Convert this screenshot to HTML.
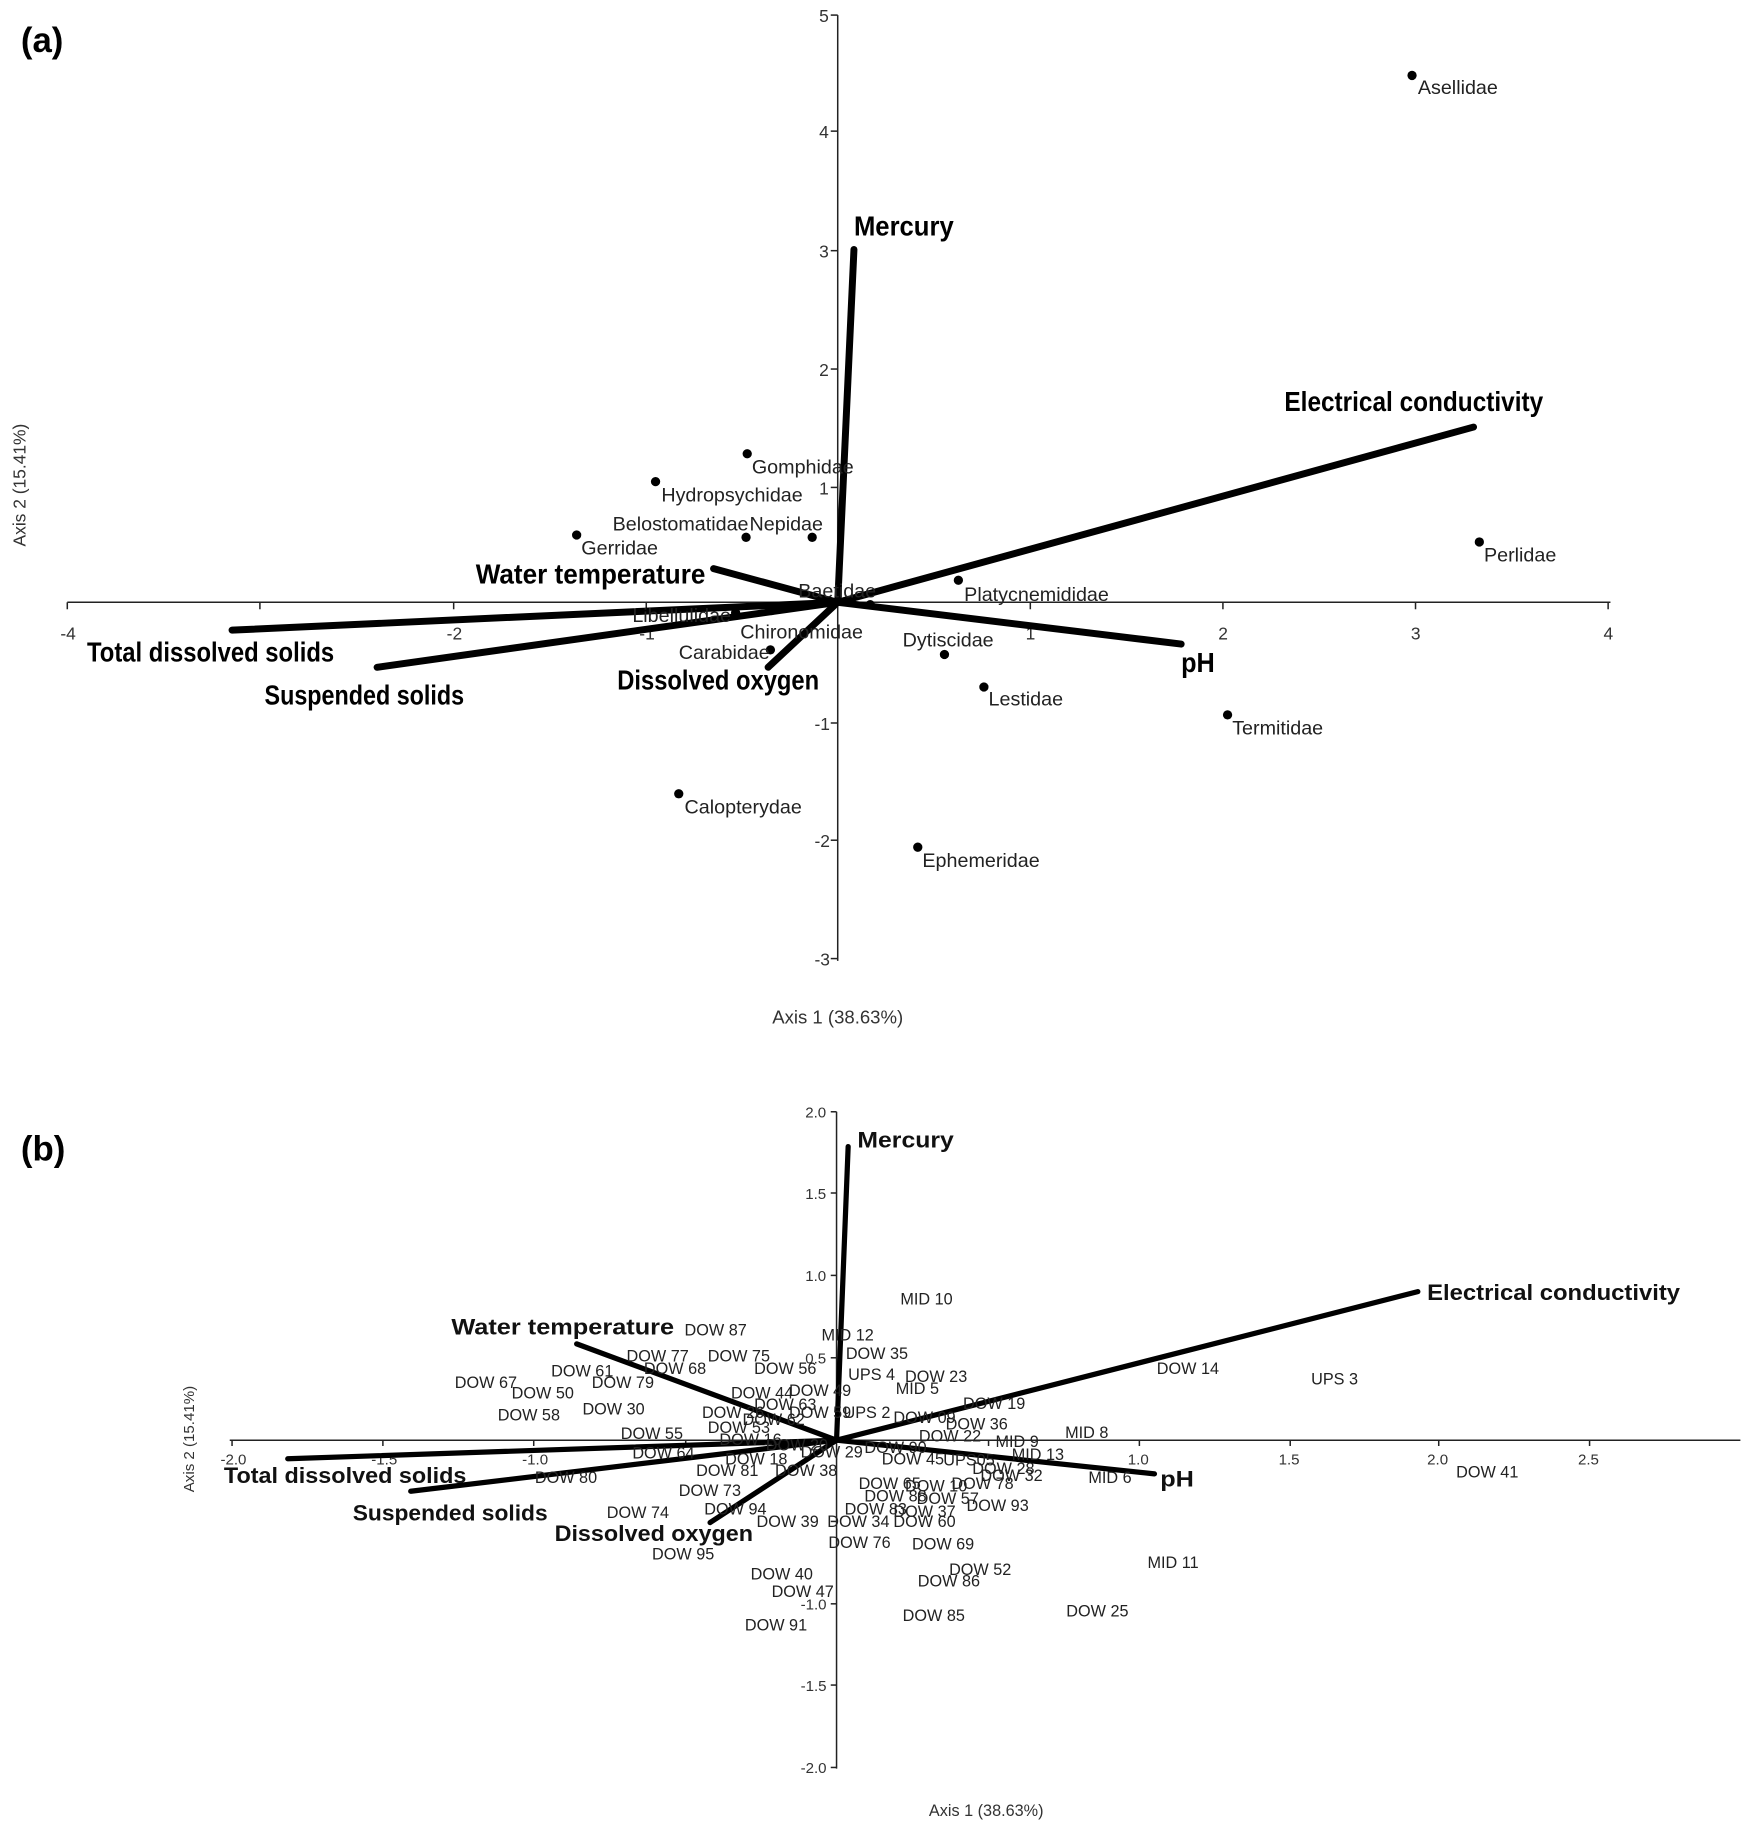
<!DOCTYPE html>
<html><head><meta charset="utf-8"><style>html,body{margin:0;padding:0;background:#fff}svg{display:block}</style></head>
<body>
<svg width="1752" height="1822" viewBox="0 0 1510 1570" preserveAspectRatio="none" xmlns="http://www.w3.org/2000/svg" font-family="Liberation Sans, sans-serif">
<rect width="1510" height="1570" fill="#fff"/>
<!-- Panel a -->
<text x="18" y="45" font-size="30" font-weight="bold">(a)</text>
<g stroke="#222" stroke-width="1.3" fill="none">
<line x1="58" y1="519" x2="1388" y2="519"/>
<line x1="722" y1="13" x2="722" y2="828"/>
<line x1="58" y1="519" x2="58" y2="525"/><line x1="224" y1="519" x2="224" y2="525"/><line x1="391" y1="519" x2="391" y2="525"/><line x1="557" y1="519" x2="557" y2="525"/><line x1="888" y1="519" x2="888" y2="525"/><line x1="1054" y1="519" x2="1054" y2="525"/><line x1="1220" y1="519" x2="1220" y2="525"/><line x1="1386" y1="519" x2="1386" y2="525"/>
<line x1="716" y1="13" x2="722" y2="13"/><line x1="716" y1="113" x2="722" y2="113"/><line x1="716" y1="216" x2="722" y2="216"/><line x1="716" y1="318" x2="722" y2="318"/><line x1="716" y1="420" x2="722" y2="420"/><line x1="716" y1="623" x2="722" y2="623"/><line x1="716" y1="724" x2="722" y2="724"/><line x1="716" y1="826" x2="722" y2="826"/>
</g>
<g font-size="15" fill="#333">
<text x="52" y="551">-4</text><text x="385" y="551">-2</text><text x="551" y="551">-1</text><text x="884" y="551">1</text><text x="1050" y="551">2</text><text x="1216" y="551">3</text><text x="1382" y="551">4</text>
<text x="706" y="19">5</text><text x="706" y="119">4</text><text x="706" y="222">3</text><text x="706" y="324">2</text><text x="706" y="426">1</text><text x="702" y="629">-1</text><text x="702" y="730">-2</text><text x="702" y="832">-3</text>
</g>
<g stroke="#000" stroke-width="6" stroke-linecap="round">
<line x1="722" y1="519" x2="736" y2="215"/>
<line x1="722" y1="519" x2="1270" y2="368"/>
<line x1="722" y1="519" x2="1018" y2="555"/>
<line x1="722" y1="519" x2="615" y2="490"/>
<line x1="722" y1="519" x2="200" y2="543"/>
<line x1="722" y1="519" x2="325" y2="575"/>
<line x1="722" y1="519" x2="662" y2="575"/>
</g>
<g font-size="24" font-weight="bold" fill="#000" lengthAdjust="spacingAndGlyphs">
<text x="736" y="203" textLength="86" lengthAdjust="spacingAndGlyphs">Mercury</text>
<text x="1107" y="354" textLength="223" lengthAdjust="spacingAndGlyphs">Electrical conductivity</text>
<text x="1018" y="579" textLength="29" lengthAdjust="spacingAndGlyphs">pH</text>
<text x="410" y="503" textLength="198" lengthAdjust="spacingAndGlyphs">Water temperature</text>
<text x="75" y="570" textLength="213" lengthAdjust="spacingAndGlyphs">Total dissolved solids</text>
<text x="228" y="607" textLength="172" lengthAdjust="spacingAndGlyphs">Suspended solids</text>
<text x="532" y="594" textLength="174" lengthAdjust="spacingAndGlyphs">Dissolved oxygen</text>
</g>
<g fill="#000">
<circle cx="1217" cy="65" r="4"/><circle cx="644" cy="391" r="4"/><circle cx="565" cy="415" r="4"/><circle cx="643" cy="463" r="4"/><circle cx="700" cy="463" r="4"/><circle cx="497" cy="461" r="4"/><circle cx="1275" cy="467" r="4"/><circle cx="826" cy="500" r="4"/><circle cx="634" cy="528" r="4"/><circle cx="665" cy="526" r="4"/><circle cx="664" cy="560" r="4"/><circle cx="814" cy="564" r="4"/><circle cx="848" cy="592" r="4"/><circle cx="1058" cy="616" r="4"/><circle cx="585" cy="684" r="4"/><circle cx="791" cy="730" r="4"/><circle cx="750" cy="521" r="4"/>
</g>
<g font-size="17" fill="#222">
<text x="1222" y="81">Asellidae</text><text x="648" y="408">Gomphidae</text><text x="570" y="432">Hydropsychidae</text><text x="528" y="457">Belostomatidae</text><text x="646" y="457">Nepidae</text><text x="501" y="478">Gerridae</text><text x="1279" y="484">Perlidae</text><text x="831" y="518">Platycnemididae</text><text x="688" y="515">Baetidae</text><text x="545" y="536">Libellulidae</text><text x="638" y="550">Chironomidae</text><text x="585" y="568">Carabidae</text><text x="778" y="557">Dytiscidae</text><text x="852" y="608">Lestidae</text><text x="1062" y="633">Termitidae</text><text x="590" y="701">Calopterydae</text><text x="795" y="747">Ephemeridae</text>
</g>
<text x="722" y="882" font-size="16" fill="#333" text-anchor="middle">Axis 1 (38.63%)</text>
<text x="0" y="0" font-size="15" fill="#333" text-anchor="middle" transform="translate(22,418) rotate(-90)">Axis 2 (15.41%)</text>

<!-- Panel b -->
<text x="18" y="1000" font-size="30" font-weight="bold">(b)</text>
<g stroke="#222" stroke-width="1.3" fill="none">
<line x1="198" y1="1241" x2="1500" y2="1241"/>
<line x1="721" y1="958" x2="721" y2="1524"/>
<line x1="200" y1="1241" x2="200" y2="1246"/><line x1="330" y1="1241" x2="330" y2="1246"/><line x1="460" y1="1241" x2="460" y2="1246"/><line x1="591" y1="1241" x2="591" y2="1246"/><line x1="852" y1="1241" x2="852" y2="1246"/><line x1="982" y1="1241" x2="982" y2="1246"/><line x1="1112" y1="1241" x2="1112" y2="1246"/><line x1="1240" y1="1241" x2="1240" y2="1246"/><line x1="1370" y1="1241" x2="1370" y2="1246"/>
<line x1="716" y1="958" x2="721" y2="958"/><line x1="716" y1="1028" x2="721" y2="1028"/><line x1="716" y1="1099" x2="721" y2="1099"/><line x1="716" y1="1170" x2="721" y2="1170"/><line x1="716" y1="1311" x2="721" y2="1311"/><line x1="716" y1="1382" x2="721" y2="1382"/><line x1="716" y1="1452" x2="721" y2="1452"/><line x1="716" y1="1523" x2="721" y2="1523"/>
</g>
<g font-size="13" fill="#333">
<text x="190" y="1262">-2.0</text><text x="320" y="1262">-1.5</text><text x="450" y="1262">-1.0</text><text x="972" y="1262">1.0</text><text x="1102" y="1262">1.5</text><text x="1230" y="1262">2.0</text><text x="1360" y="1262">2.5</text>
<text x="694" y="963">2.0</text><text x="694" y="1033">1.5</text><text x="694" y="1104">1.0</text><text x="694" y="1175">0.5</text><text x="690" y="1387">-1.0</text><text x="690" y="1457">-1.5</text><text x="690" y="1528">-2.0</text>
</g>
<g stroke="#000" stroke-width="4.5" stroke-linecap="round">
<line x1="721" y1="1241" x2="731" y2="988"/>
<line x1="721" y1="1241" x2="1222" y2="1113"/>
<line x1="721" y1="1241" x2="995" y2="1270"/>
<line x1="721" y1="1241" x2="497" y2="1158"/>
<line x1="721" y1="1241" x2="248" y2="1257"/>
<line x1="721" y1="1241" x2="354" y2="1285"/>
<line x1="721" y1="1241" x2="612" y2="1312"/>
</g>
<g font-size="19" font-weight="bold" fill="#111">
<text x="739" y="989" textLength="83" lengthAdjust="spacingAndGlyphs">Mercury</text>
<text x="1230" y="1120" textLength="218" lengthAdjust="spacingAndGlyphs">Electrical conductivity</text>
<text x="1000" y="1281" textLength="29" lengthAdjust="spacingAndGlyphs">pH</text>
<text x="389" y="1150" textLength="192" lengthAdjust="spacingAndGlyphs">Water temperature</text>
<text x="193" y="1278" textLength="209" lengthAdjust="spacingAndGlyphs">Total dissolved solids</text>
<text x="304" y="1310" textLength="168" lengthAdjust="spacingAndGlyphs">Suspended solids</text>
<text x="478" y="1328" textLength="171" lengthAdjust="spacingAndGlyphs">Dissolved oxygen</text>
</g>
<g font-size="14" fill="#222">
<text x="776" y="1124">MID 10</text><text x="590" y="1151">DOW 87</text><text x="708" y="1155">MID 12</text><text x="540" y="1173">DOW 77</text><text x="610" y="1173">DOW 75</text><text x="729" y="1171">DOW 35</text><text x="475" y="1186">DOW 61</text><text x="555" y="1184">DOW 68</text><text x="650" y="1184">DOW 56</text><text x="731" y="1189">UPS 4</text><text x="780" y="1191">DOW 23</text><text x="997" y="1184">DOW 14</text><text x="1130" y="1193">UPS 3</text><text x="392" y="1196">DOW 67</text><text x="510" y="1196">DOW 79</text><text x="441" y="1205">DOW 50</text><text x="772" y="1201">MID 5</text><text x="680" y="1203">DOW 49</text><text x="830" y="1214">DOW 19</text><text x="429" y="1224">DOW 58</text><text x="502" y="1219">DOW 30</text><text x="815" y="1232">DOW 36</text><text x="918" y="1239">MID 8</text><text x="535" y="1240">DOW 55</text><text x="610" y="1235">DOW 53</text><text x="792" y="1242">DOW 22</text><text x="858" y="1247">MID 9</text><text x="545" y="1257">DOW 64</text><text x="872" y="1258">MID 13</text><text x="813" y="1263">UPS05</text><text x="838" y="1270">DOW 28</text><text x="461" y="1278">DOW 80</text><text x="600" y="1272">DOW 81</text><text x="668" y="1272">DOW 38</text><text x="938" y="1278">MID 6</text><text x="845" y="1276">DOW 32</text><text x="1255" y="1273">DOW 41</text><text x="585" y="1289">DOW 73</text><text x="820" y="1283">DOW 78</text><text x="833" y="1302">DOW 93</text><text x="523" y="1308">DOW 74</text><text x="607" y="1305">DOW 94</text><text x="652" y="1316">DOW 39</text><text x="713" y="1316">DOW 34</text><text x="770" y="1316">DOW 60</text><text x="714" y="1334">DOW 76</text><text x="786" y="1335">DOW 69</text><text x="562" y="1344">DOW 95</text><text x="989" y="1351">MID 11</text><text x="818" y="1357">DOW 52</text><text x="647" y="1361">DOW 40</text><text x="791" y="1367">DOW 86</text><text x="665" y="1376">DOW 47</text><text x="778" y="1397">DOW 85</text><text x="919" y="1393">DOW 25</text><text x="642" y="1405">DOW 91</text>
<text x="630" y="1205">DOW 44</text><text x="650" y="1215">DOW 63</text><text x="605" y="1222">DOW 26</text><text x="640" y="1228">DOW 62</text><text x="680" y="1222">DOW 59</text><text x="727" y="1222">UPS 2</text><text x="770" y="1226">DOW 09</text><text x="620" y="1245">DOW 16</text><text x="660" y="1250">DOW 20</text><text x="690" y="1256">DOW 29</text><text x="745" y="1252">DOW 90</text><text x="760" y="1262">DOW 45</text><text x="625" y="1262">DOW 18</text><text x="740" y="1283">DOW 65</text><text x="780" y="1285">DOW 10</text><text x="745" y="1294">DOW 88</text><text x="790" y="1296">DOW 57</text><text x="728" y="1305">DOW 83</text><text x="770" y="1307">DOW 37</text>
</g>
<text x="850" y="1565" font-size="14" fill="#333" text-anchor="middle">Axis 1 (38.63%)</text>
<text x="0" y="0" font-size="13" fill="#333" text-anchor="middle" transform="translate(167,1240) rotate(-90)">Axis 2 (15.41%)</text>
</svg>
</body></html>
